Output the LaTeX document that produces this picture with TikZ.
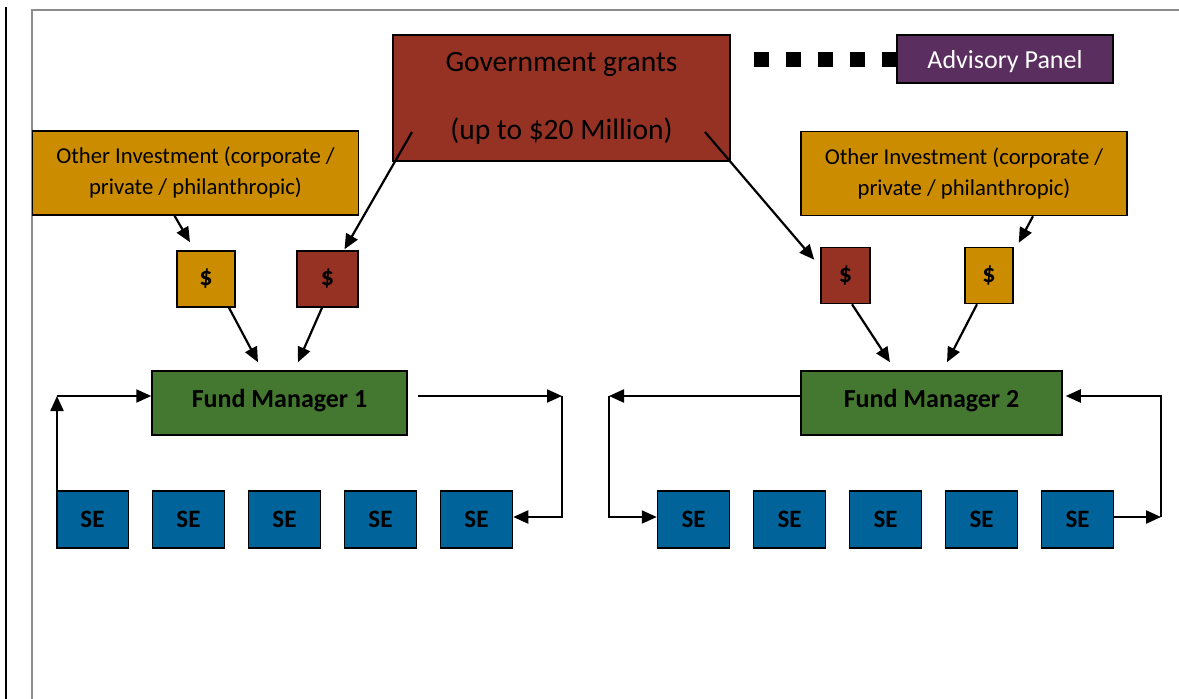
\documentclass[tikz,border=0pt]{standalone}
\usepackage{fontspec}
\setmainfont{Carlito}
\usetikzlibrary{arrows.meta,calc}

\definecolor{grantred}{HTML}{953224}
\definecolor{investgold}{HTML}{CC8C00}
\definecolor{panelpurple}{HTML}{5A2E5F}
\definecolor{fundgreen}{HTML}{44772F}
\definecolor{seblue}{HTML}{00649B}
\definecolor{framegray}{HTML}{8C8C8C}

\begin{document}
\begin{tikzpicture}[x=1pt,y=-1pt,
  box/.style={draw=black,line width=1.5pt,inner sep=0pt,align=center},
  grant/.style={box,fill=grantred,minimum width=337pt,minimum height=126pt,
    font=\fontsize{29.5}{68}\selectfont},
  panel/.style={box,fill=panelpurple,text=white,minimum width=216pt,minimum height=48pt,
    text height=19pt,text depth=0pt,font=\fontsize{26}{30}\selectfont},
  invest/.style={box,fill=investgold,minimum width=326pt,minimum height=84pt,
    font=\fontsize{22.7}{31}\selectfont},
  dollar/.style={box,minimum height=56pt,font=\bfseries\fontsize{26}{30}\selectfont},
  fund/.style={box,fill=fundgreen,minimum height=64pt,text height=18pt,text depth=10pt,
    font=\bfseries\fontsize{26}{30}\selectfont},
  sebox/.style={box,fill=seblue,minimum width=72pt,minimum height=57pt,
    font=\bfseries\fontsize{25}{30}\selectfont},
  flow/.style={line width=2.2pt,-{Triangle[length=15pt,width=13pt]}}]
\useasboundingbox (0,0) rectangle (1179,699);

% page rule and frame
\draw[line width=2pt] (6,7) -- (6,699);
\draw[framegray,line width=1.5pt] (32,699) -- (32,10) -- (1179,10);

% funding sources
\node[grant] (gov) at (561.5,98) {Government grants\\(up to \$20 Million)};
\node[panel] (adv) at (1005,59) {Advisory Panel};
\node[invest] (oiL) at (195.5,173) {Other Investment (corporate /\\private / philanthropic)};
\node[invest] (oiR) at (964,173.5) {Other Investment (corporate /\\private / philanthropic)};

% money boxes
\node[dollar,fill=investgold,minimum width=58pt] (dL1) at (206,279) {\$};
\node[dollar,fill=grantred,minimum width=61pt] (dL2) at (327.5,279) {\$};
\node[dollar,fill=grantred,minimum width=49pt] (dR1) at (845.5,275.5) {\$};
\node[dollar,fill=investgold,minimum width=48pt] (dR2) at (989,275.5) {\$};

% fund managers
\node[fund,minimum width=255pt] (FM1) at (279.5,403) {Fund Manager 1};
\node[fund,minimum width=261pt] (FM2) at (931.5,403) {Fund Manager 2};

% social enterprises
\foreach \i/\x in {1/92.5,2/188.5,3/284.5,4/380.5,5/476.5,
                   6/693.5,7/789.5,8/885.5,9/981.5,10/1077.5}
  \node[sebox] (SE\i) at (\x,519.5) {SE};

% advisory link
\draw[line width=15pt,dash pattern=on 15pt off 17pt,shorten <=23pt] (gov.east |- adv.west) -- (adv.west);

% grant and investment flows
\coordinate (g1) at (412,132);
\coordinate (g2) at (705,132);
\draw[flow] (g1) -- ($(dL2.north)+(17,-1)$);
\draw[flow] (g2) -- ($(dR1.north west)+(-6,13)$);
\draw[flow] ($(oiL.south)+(-21,0)$) -- ($(dL1.north)+(-16,-8)$);
\draw[flow] ($(oiR.south)+(69,0)$) -- ($(dR2.north east)+(5,-4)$);
\draw[flow] ($(dL1.south)+(23,0)$) -- ($(FM1.north)+(-21.5,-8)$);
\draw[flow] ($(dL2.south)+(-5.5,0)$) -- ($(FM1.north)+(18.5,-8)$);
\draw[flow] ($(dR1.south)+(6.5,0)$) -- ($(FM2.north)+(-41.5,-8)$);
\draw[flow] ($(dR2.south)+(-12,0)$) -- ($(FM2.north)+(15.5,-8)$);

% loop around fund manager 1
\coordinate (l1) at (57,396);
\coordinate (r1) at (562,396);
\draw[flow] (l1 |- SE1.south) -- (l1);
\draw[flow] (l1) -- (l1 -| FM1.west);
\draw[flow] ($(FM1.east |- r1)+(10,0)$) -- (r1);
\draw[flow] (r1) |- ($(SE5.east)+(0,-2.5)$);

% loop around fund manager 2
\coordinate (l2) at (609,396);
\coordinate (r2) at (1161,517);
\draw[flow] (FM2.west |- l2) -- (l2);
\draw[flow] (l2) |- ($(SE6.west)+(0,-2.5)$);
\draw[flow] ($(SE10.east)+(0,-2.5)$) -- (r2);
\draw[flow] (r2) |- ($(FM2.east |- l2)+(3,0)$);
\end{tikzpicture}
\end{document}
